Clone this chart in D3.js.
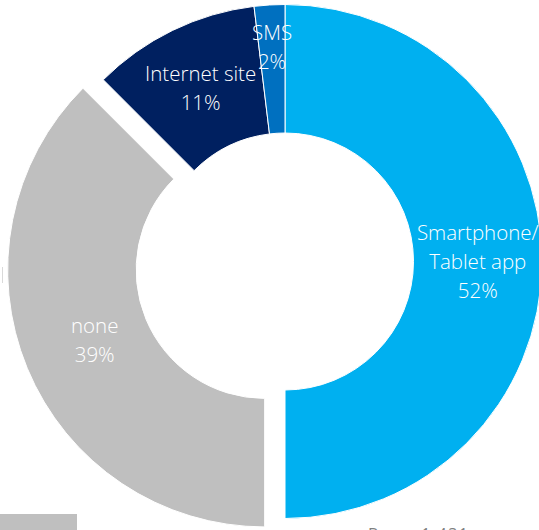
<!DOCTYPE html>
<html>
<head>
<meta charset="utf-8">
<script src="https://cdn.jsdelivr.net/npm/d3@7"></script>
<style>
  html, body { margin: 0; padding: 0; background: #fff; overflow: hidden; }
  svg { display: block; }
  text { font-family: "Segoe UI", "Open Sans", "Noto Sans", sans-serif; }
</style>
</head>
<body>
<script>
// Channel used to access the service (share of respondents, %)
const categories = ["Smartphone/Tablet app", "none", "Internet site", "SMS"];
const values = [52, 39, 11, 2];
const labelLines = [["Smartphone/", "Tablet app"], ["none"], ["Internet site"], ["SMS"]];
const baseNote = "Base: 1,431";

const W = 539, H = 530;
const cx = 285, cy = 261.5;
const outerR = 257, innerR = 128.5;
// slice pulled out of the ring, and label radius tweaks
const pullOut = { "none": 22 };
const labelR = { "SMS": 215, "none": 184 };

const color = d3.scaleOrdinal()
  .domain(categories)
  .range(["#00B0F0", "#BFBFBF", "#002060", "#0070C0"]);

const svg = d3.select("body").append("svg")
  .attr("width", W).attr("height", H);

const pie = d3.pie().sort(null).value(d => d.value)
  .startAngle(0).endAngle(2 * Math.PI);

const data = categories.map((c, i) => ({ name: c, value: values[i], lines: labelLines[i] }));
const arcs = pie(data);

const arc = d3.arc().innerRadius(innerR).outerRadius(outerR);

const g = svg.append("g").attr("transform", `translate(${cx},${cy})`);

const slice = g.selectAll("g.slice").data(arcs).join("g")
  .attr("class", "slice")
  .attr("transform", d => {
    const off = pullOut[d.data.name] || 0;
    const a = (d.startAngle + d.endAngle) / 2;
    return `translate(${off * Math.sin(a)},${-off * Math.cos(a)})`;
  });

slice.append("path")
  .attr("d", arc)
  .attr("fill", d => color(d.data.name))
  .attr("stroke", "#fff")
  .attr("stroke-width", 1);

const lineH = 29;
slice.append("text")
  .attr("fill", "#fff")
  .attr("font-size", 20.5)
  .attr("font-weight", 300)
  .attr("text-anchor", "middle")
  .each(function (d) {
    const a = (d.startAngle + d.endAngle) / 2;
    const r = labelR[d.data.name] || (innerR + outerR) / 2;
    const x = r * Math.sin(a), y = -r * Math.cos(a);
    const lines = d.data.lines.concat([d.data.value + "%"]);
    const top = y - (lines.length - 1) * lineH / 2;
    d3.select(this).selectAll("tspan").data(lines).join("tspan")
      .attr("x", x)
      .attr("y", (t, i) => top + i * lineH)
      .attr("dy", "0.35em")
      .text(t => t);
  });

// base note and legend swatch along the bottom edge
svg.append("text")
  .attr("x", 368).attr("y", 540)
  .attr("fill", "#7F7F7F")
  .attr("font-size", 16)
  .attr("letter-spacing", 1.5)
  .text(baseNote);

svg.append("rect")
  .attr("x", 0).attr("y", 514).attr("width", 77).attr("height", 20)
  .attr("fill", "#BFBFBF");

svg.append("line")
  .attr("x1", 2.5).attr("x2", 2.5).attr("y1", 267).attr("y2", 283)
  .attr("stroke", "#D9D9D9").attr("stroke-width", 1);
</script>
</body>
</html>
